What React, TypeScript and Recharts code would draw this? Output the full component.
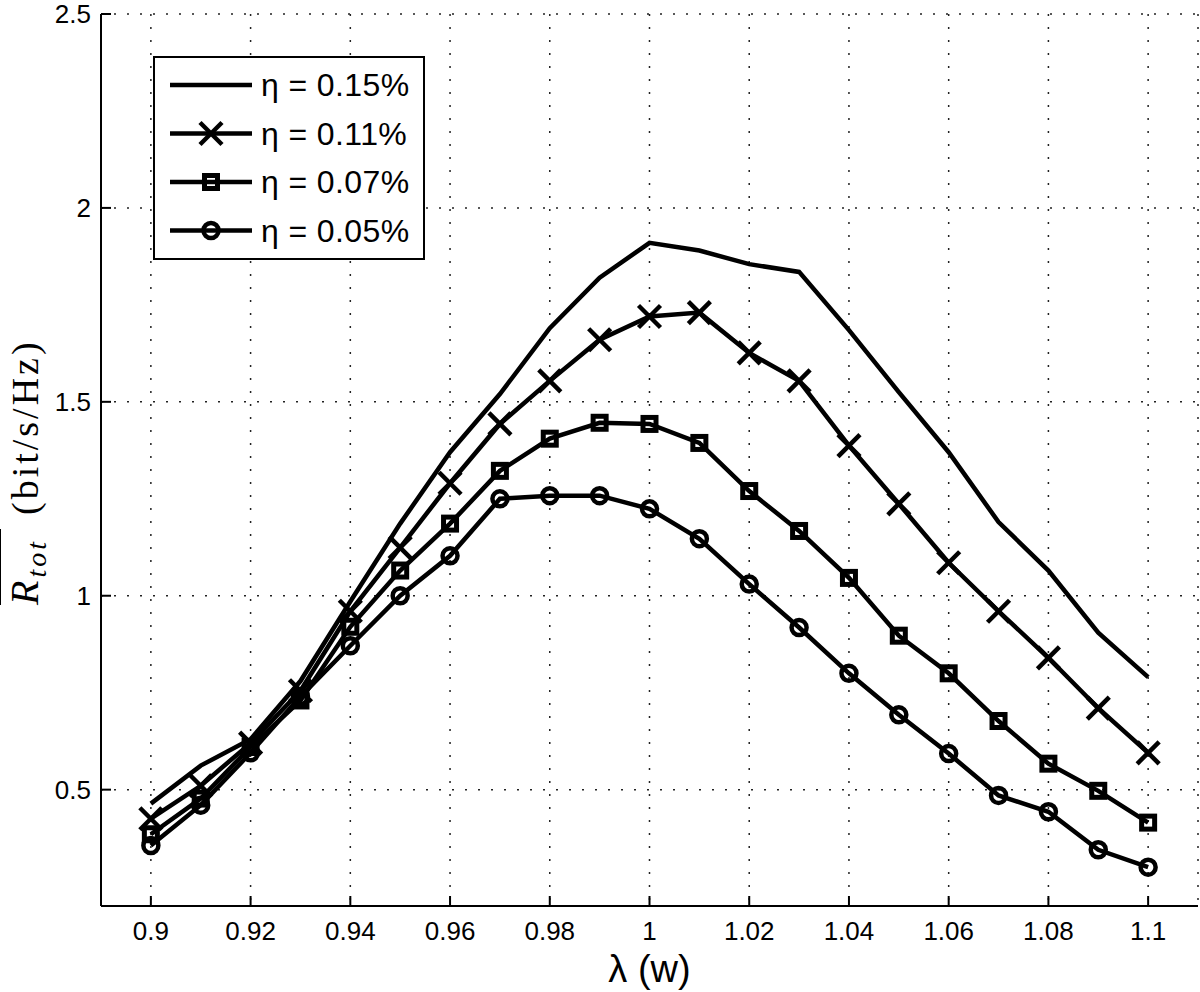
import { LineChart, Line, XAxis, YAxis, CartesianGrid, Legend } from 'recharts';

const lambdaValues = [0.9, 0.91, 0.92, 0.93, 0.94, 0.95, 0.96, 0.97, 0.98, 0.99, 1.0, 1.01, 1.02, 1.03, 1.04, 1.05, 1.06, 1.07, 1.08, 1.09, 1.1];
const eta015 = [0.464, 0.562, 0.63, 0.78, 0.985, 1.186, 1.37, 1.52, 1.69, 1.82, 1.91, 1.89, 1.855, 1.835, 1.685, 1.525, 1.37, 1.19, 1.065, 0.905, 0.79];
const eta011 = [0.425, 0.51, 0.62, 0.755, 0.96, 1.124, 1.29, 1.443, 1.554, 1.66, 1.72, 1.73, 1.626, 1.554, 1.387, 1.237, 1.085, 0.96, 0.84, 0.71, 0.595];
const eta007 = [0.385, 0.477, 0.61, 0.73, 0.92, 1.065, 1.186, 1.322, 1.405, 1.446, 1.443, 1.394, 1.27, 1.167, 1.046, 0.897, 0.8, 0.677, 0.567, 0.497, 0.415];
const eta005 = [0.356, 0.46, 0.595, 0.74, 0.871, 1.0, 1.103, 1.25, 1.258, 1.258, 1.224, 1.147, 1.03, 0.918, 0.8, 0.693, 0.593, 0.485, 0.443, 0.345, 0.3];

const xTicks = [0.9, 0.92, 0.94, 0.96, 0.98, 1, 1.02, 1.04, 1.06, 1.08, 1.1];
const yTicks = [0.5, 1, 1.5, 2, 2.5];

const series = [
  { key: 'eta015', label: 'η = 0.15%', marker: 'none' },
  { key: 'eta011', label: 'η = 0.11%', marker: 'x' },
  { key: 'eta007', label: 'η = 0.07%', marker: 'square' },
  { key: 'eta005', label: 'η = 0.05%', marker: 'circle' },
];

const data = lambdaValues.map((l, i) => ({
  lambda: l,
  eta015: eta015[i],
  eta011: eta011[i],
  eta007: eta007[i],
  eta005: eta005[i],
}));

const FONT = '"Liberation Sans", Arial, Helvetica, sans-serif';
const SERIF = '"Liberation Serif", "DejaVu Serif", serif';
const fmt = (v: number) => String(Number(v.toFixed(2)));

function Marker({ type, cx, cy }: { type: string; cx: number; cy: number }) {
  if (type === 'x') {
    const s = 11;
    return (
      <g stroke="#000" strokeWidth={4.5}>
        <line x1={cx - s} y1={cy - s} x2={cx + s} y2={cy + s} />
        <line x1={cx - s} y1={cy + s} x2={cx + s} y2={cy - s} />
      </g>
    );
  }
  if (type === 'square') {
    return <rect x={cx - 6.5} y={cy - 6.5} width={13} height={13} fill="none" stroke="#000" strokeWidth={5} />;
  }
  if (type === 'circle') {
    return <circle cx={cx} cy={cy} r={7.5} fill="none" stroke="#000" strokeWidth={4.5} />;
  }
  return null;
}

const BottomTick = ({ x, y, payload }: any) => (
  <g>
    <line x1={x} x2={x} y1={y} y2={y - 10} stroke="#000" strokeWidth={2} />
    <text x={x} y={y + 34} textAnchor="middle" fontSize={26} fontFamily={FONT} fill="#000">
      {fmt(payload.value)}
    </text>
  </g>
);

const TopTick = ({ x, y }: any) => <line x1={x} x2={x} y1={y} y2={y + 10} stroke="#000" strokeWidth={2} />;

const LeftTick = ({ x, y, payload }: any) => (
  <g>
    <line x1={x} x2={x + 10} y1={y} y2={y} stroke="#000" strokeWidth={2} />
    <text x={x - 10} y={y + 9} textAnchor="end" fontSize={26} fontFamily={FONT} fill="#000">
      {fmt(payload.value)}
    </text>
  </g>
);

const RightTick = ({ x, y }: any) => <line x1={x} x2={x - 10} y1={y} y2={y} stroke="#000" strokeWidth={2} />;

// rotated y label, roughly centred on the plot height like matlab does
const YLabel = ({ viewBox }: any) => {
  const bx = viewBox.x - 3;
  const cy = viewBox.y + viewBox.height / 2;
  const x0 = bx - 145;
  return (
    <g transform={`rotate(-90, ${bx}, ${cy})`} fill="#000">
      <line x1={x0} x2={x0 + 76} y1={cy - 38} y2={cy - 38} stroke="#000" strokeWidth={2} />
      <text x={x0} y={cy} fontSize={40} fontFamily={SERIF} fontStyle="italic" letterSpacing={3}>
        R<tspan fontSize={28} dy={8}>tot</tspan>
      </text>
      <text x={x0 + 90} y={cy} fontSize={38} fontFamily={SERIF} letterSpacing={3}>
        (bit/s/Hz)
      </text>
    </g>
  );
};

const XLabel = ({ viewBox }: any) => (
  <text x={viewBox.x + viewBox.width / 2} y={982} textAnchor="middle" fontSize={38} fontFamily={FONT} fill="#000">
    λ (w)
  </text>
);

const LegendBox = () => (
  <svg width={272} height={204} style={{ display: 'block' }}>
    <rect x={1} y={1} width={270} height={202} fill="#fff" stroke="#000" strokeWidth={2} />
    {series.map((s, i) => {
      const cy = 29 + i * 48.5;
      return (
        <g key={s.key}>
          <line x1={17} x2={99} y1={cy} y2={cy} stroke="#000" strokeWidth={4.5} />
          <Marker type={s.marker} cx={58} cy={cy} />
          <text x={108} y={cy + 11} fontSize={32} letterSpacing={0.4} fontFamily={FONT} fill="#000">
            {s.label}
          </text>
        </g>
      );
    })}
  </svg>
);

export default function App() {
  return (
    <div style={{ position: 'absolute', left: 0, top: 0, width: 1200, height: 992, background: '#fff' }}>
      <LineChart width={1200} height={992} data={data} margin={{ top: 14, right: 2, bottom: 26, left: 41 }}>
        <CartesianGrid stroke="#222" strokeWidth={1.5} strokeDasharray="2 11" />
        <XAxis
          dataKey="lambda"
          type="number"
          domain={[0.89, 1.11]}
          ticks={xTicks}
          height={60}
          tickSize={0}
          tickMargin={0}
          tick={<BottomTick />}
          axisLine={{ stroke: '#000', strokeWidth: 2 }}
          label={<XLabel />}
          interval={0}
        />
        <XAxis
          xAxisId="top"
          orientation="top"
          dataKey="lambda"
          type="number"
          domain={[0.89, 1.11]}
          ticks={xTicks}
          height={0}
          tickSize={0}
          tickMargin={0}
          tick={<TopTick />}
          axisLine={{ stroke: '#000', strokeWidth: 2 }}
          interval={0}
        />
        <YAxis
          type="number"
          domain={[0.2, 2.5]}
          ticks={yTicks}
          width={60}
          tickSize={0}
          tickMargin={0}
          tick={<LeftTick />}
          axisLine={{ stroke: '#000', strokeWidth: 2 }}
          label={<YLabel />}
          interval={0}
        />
        <YAxis
          yAxisId="right"
          orientation="right"
          type="number"
          domain={[0.2, 2.5]}
          ticks={yTicks}
          width={0}
          tickSize={0}
          tickMargin={0}
          tick={<RightTick />}
          axisLine={{ stroke: '#000', strokeWidth: 2 }}
          interval={0}
        />
        <Legend
          layout="vertical"
          align="center"
          verticalAlign="middle"
          content={<LegendBox />}
          wrapperStyle={{ left: 153, top: 56, width: 272, height: 204 }}
        />
        {series.map((s) => (
          <Line
            key={s.key}
            type="linear"
            dataKey={s.key}
            name={s.label}
            stroke="#000"
            strokeWidth={4.5}
            dot={(p: any) => <Marker key={`${s.key}-${p.index}`} type={s.marker} cx={p.cx} cy={p.cy} />}
            activeDot={false}
            isAnimationActive={false}
          />
        ))}
      </LineChart>
    </div>
  );
}
